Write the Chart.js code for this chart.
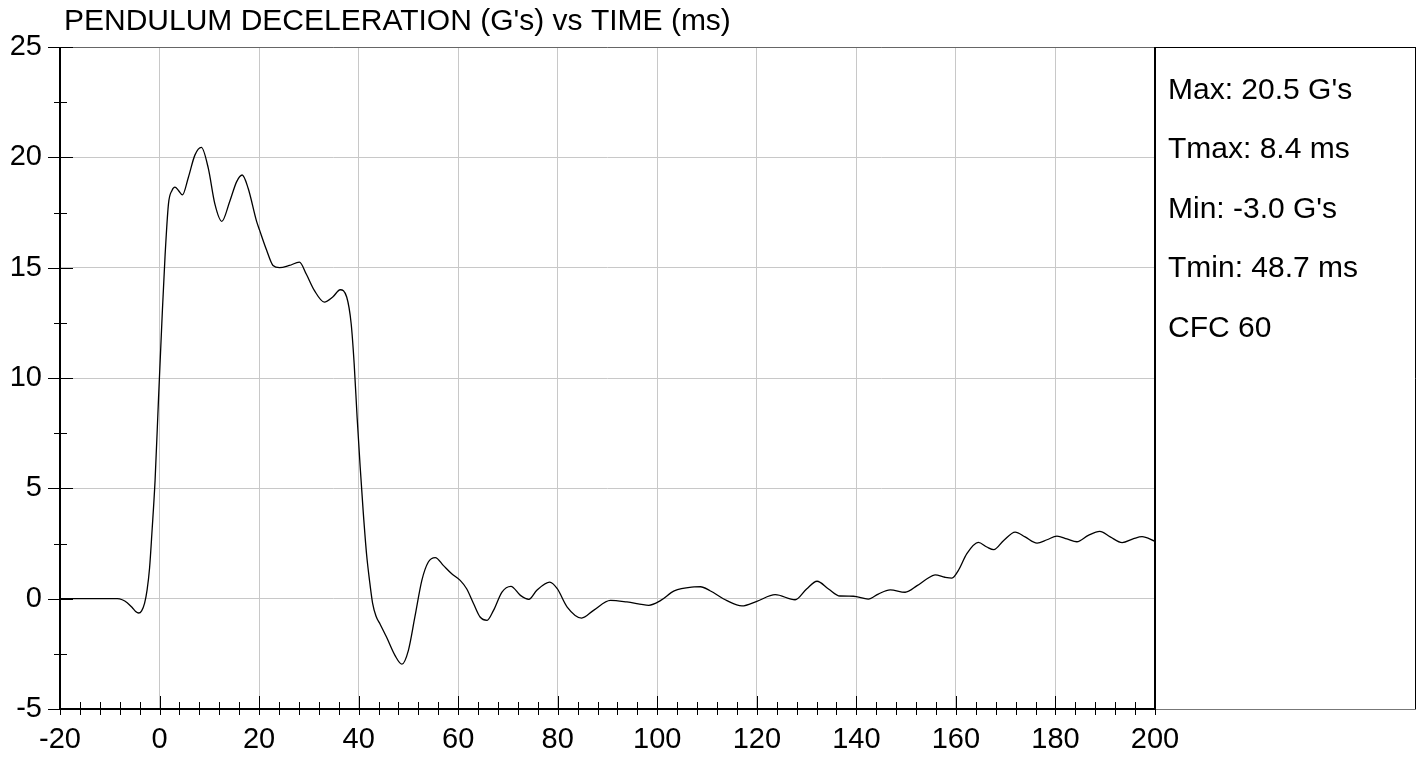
<!DOCTYPE html>
<html><head><meta charset="utf-8">
<script src="https://cdn.jsdelivr.net/npm/chart.js@4"></script>
<style>html,body{margin:0;padding:0;background:#fff;}canvas{display:block;}</style>
</head><body>
<canvas id="c" width="1421" height="759"></canvas>
<script>
const chartTitle = "PENDULUM DECELERATION (G's) vs TIME (ms)";
const infoLines = ["Max: 20.5 G's", "Tmax: 8.4 ms", "Min: -3.0 G's", "Tmin: 48.7 ms", "CFC 60"];
const xRange = [-20, 200];
const yRange = [-5, 25];
const xMajorStep = 20, xMinorStep = 4;
const yMajorStep = 5, yMinorStep = 2.5;

const timeMs = [
 -20, -15, -10, -8.5, -7.5, -6.5, -5.5, -4.8, -4.2, -3.6, -3.0, -2.5, -2.0, -1.5, -0.9, -0.2,
 0.5, 1.1, 1.8, 2.5, 3.1, 3.8, 4.6, 5.8, 7.1, 8.4, 9.8, 11.1, 12.5, 14.1, 15.5, 16.6, 17.8, 19.5,
 20.1, 21.5, 22.8, 24.1, 26.1, 28.1, 29.5, 31.1, 33.1, 34.8, 36.3, 37.6, 38.5, 39.1, 39.7, 40.3,
 40.9, 41.6, 42.2, 42.8, 43.5, 44.3, 45.6, 47.3, 48.7, 50.0, 51.3, 52.7, 54.0, 55.4, 57.0, 58.7,
 60.4, 61.7, 63.1, 64.4, 65.8, 67.1, 68.8, 70.6, 72.5, 74.2, 75.8, 78.4, 79.9, 81.9, 84.8, 87.2,
 90.6, 93.9, 98.3, 100.7, 103.4, 107.4, 108.7, 110.6, 114.0, 117.0, 120.0, 123.7, 127.7, 130.0,
 132.1, 134.4, 136.7, 139.4, 142.4, 144.4, 146.8, 149.8, 152.2, 154.2, 155.8, 157.8, 159.2, 160.5,
 162.2, 164.5, 166.2, 167.6, 169.6, 171.9, 173.9, 176.3, 178.3, 180.3, 182.3, 184.3, 186.6, 188.9,
 191.0, 193.4, 195.7, 197.4, 200
];
const decelG = [
 0, 0, 0, 0, -0.05, -0.18, -0.4, -0.58, -0.65, -0.55, -0.2, 0.4, 1.4, 3.1, 5.35, 9.1,
 12.7, 15.5, 17.9, 18.5, 18.65, 18.5, 18.3, 19.1, 20.1, 20.45, 19.5, 17.9, 17.1, 18.0, 18.9, 19.2, 18.6, 17.1,
 16.7, 15.8, 15.1, 15.0, 15.1, 15.25, 14.7, 13.97, 13.44, 13.67, 14.0, 13.67, 12.46, 10.65, 8.2, 6.0,
 4.0, 2.0, 0.8, -0.2, -0.8, -1.15, -1.74, -2.57, -2.97, -2.34, -0.83, 0.83, 1.66, 1.86, 1.51, 1.13,
 0.83, 0.45, -0.23, -0.83, -0.98, -0.53, 0.30, 0.56, 0.15, -0.03, 0.38, 0.75, 0.45, -0.38, -0.88, -0.53,
 -0.08, -0.15, -0.30, -0.08, 0.35, 0.53, 0.54, 0.36, -0.09, -0.33, -0.12, 0.18, -0.05, 0.44,
 0.79, 0.44, 0.12, 0.11, -0.02, 0.21, 0.40, 0.29, 0.59, 0.90, 1.08, 0.97, 0.93, 1.28,
 2.04, 2.55, 2.34, 2.22, 2.64, 3.02, 2.80, 2.52, 2.67, 2.83, 2.71, 2.58, 2.87, 3.05,
 2.80, 2.54, 2.72, 2.81, 2.6
];

const FONT = '"Liberation Sans", Arial, sans-serif';

const decor = {
  id: 'decor',
  afterDraw(chart) {
    const {ctx, chartArea: a, scales: {x, y}} = chart;
    const L = (x1, y1, x2, y2) => { ctx.beginPath(); ctx.moveTo(x1, y1); ctx.lineTo(x2, y2); ctx.stroke(); };
    ctx.save();
    // plot top line
    ctx.strokeStyle = '#666'; ctx.lineWidth = 1;
    L(a.left, a.top + 0.5, a.right, a.top + 0.5);
    // info box
    ctx.strokeStyle = '#000'; ctx.lineWidth = 1;
    L(a.right, a.top + 0.5, 1415.5, a.top + 0.5);
    L(1415.5, a.top, 1415.5, a.bottom + 0.5);
    ctx.strokeStyle = '#777';
    L(a.right, a.bottom + 0.5, 1415.5, a.bottom + 0.5);
    ctx.strokeStyle = '#000'; ctx.lineWidth = 2;
    L(a.right, a.top, a.right, a.bottom + 1);
    // axes
    L(a.left, a.top, a.left, a.bottom + 1);
    L(a.left - 1, a.bottom, a.right, a.bottom);
    // tick marks
    ctx.lineWidth = 1;
    x.ticks.forEach(t => {
      const px = Math.round(x.getPixelForValue(t.value)) + 0.5;
      const major = Math.abs(t.value % xMajorStep) < 1e-6;
      L(px, a.bottom - (major ? 13 : 7), px, a.bottom + 6);
    });
    y.ticks.forEach(t => {
      const py = Math.round(y.getPixelForValue(t.value)) + 0.5;
      const major = Math.abs(t.value % yMajorStep) < 1e-6;
      L(a.left - (major ? 12 : 6), py, a.left + (major ? 13 : 7), py);
    });
    // title
    ctx.fillStyle = '#000';
    ctx.textBaseline = 'alphabetic';
    ctx.textAlign = 'left';
    ctx.font = '30px ' + FONT;
    ctx.fillText(chartTitle, 64, 29.5);
    // info text
    ctx.font = '30px ' + FONT;
    infoLines.forEach((s, i) => ctx.fillText(s, 1168, 98.5 + i * 59.6));
    ctx.restore();
  }
};

new Chart(document.getElementById('c'), {
  type: 'scatter',
  data: {
    datasets: [{
      data: timeMs.map((t, i) => ({x: t, y: decelG[i]})),
      showLine: true,
      borderColor: '#000',
      borderWidth: 1.3,
      pointRadius: 0,
      fill: false,
      cubicInterpolationMode: 'monotone'
    }]
  },
  options: {
    responsive: false,
    animation: false,
    events: [],
    layout: {padding: {top: 47, right: 266, left: 0, bottom: 0}},
    plugins: {legend: {display: false}, tooltip: {enabled: false}, title: {display: false}},
    scales: {
      x: {
        type: 'linear', min: xRange[0], max: xRange[1],
        afterFit(s) { s.height = 50; },
        border: {display: false},
        grid: {
          drawTicks: false,
          lineWidth: 1,
          color: c => (c.tick && Math.abs(c.tick.value % xMajorStep) < 1e-6) ? '#c8c8c8' : 'rgba(0,0,0,0)'
        },
        ticks: {
          stepSize: xMinorStep, autoSkip: false, maxRotation: 0, padding: 14, color: '#000',
          font: {family: FONT, size: 29},
          callback: v => (Math.abs(v % xMajorStep) < 1e-6) ? String(v) : ''
        }
      },
      y: {
        type: 'linear', min: yRange[0], max: yRange[1],
        afterFit(s) { s.width = 60; },
        border: {display: false},
        grid: {
          drawTicks: false,
          lineWidth: 1,
          color: c => (c.tick && Math.abs(c.tick.value % yMajorStep) < 1e-6) ? '#c8c8c8' : 'rgba(0,0,0,0)'
        },
        ticks: {
          stepSize: yMinorStep, autoSkip: false, padding: 18, color: '#000',
          font: {family: FONT, size: 29},
          callback: v => (Math.abs(v % yMajorStep) < 1e-6) ? String(v) : ''
        }
      }
    }
  },
  plugins: [decor]
});
</script>
</body></html>
